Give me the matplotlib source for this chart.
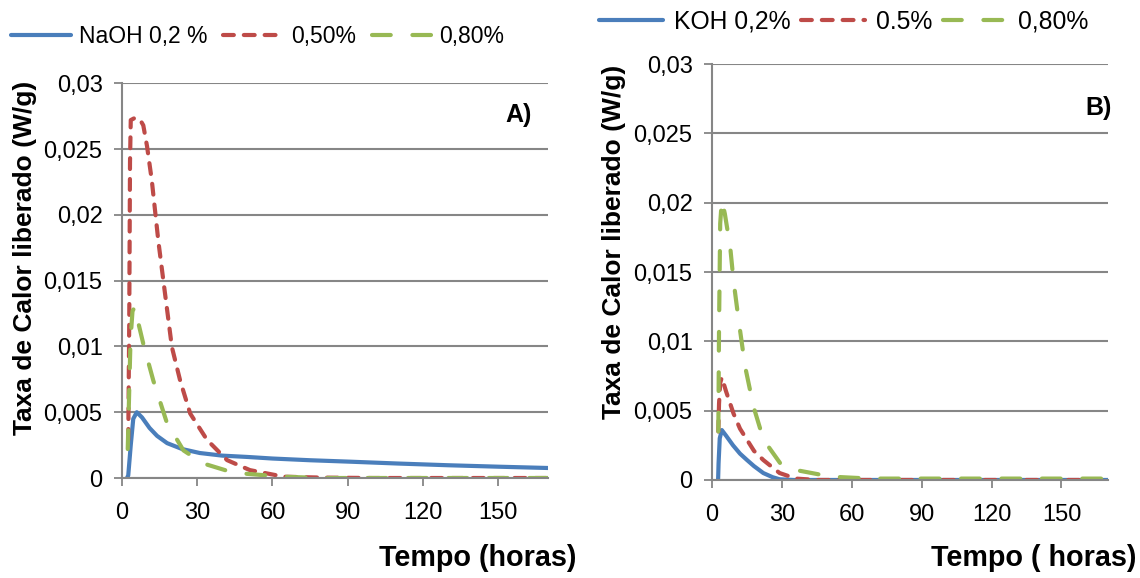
import numpy as np
import matplotlib.pyplot as plt

plt.rcParams['font.family'] = ['Liberation Sans', 'DejaVu Sans']

# ---- data (hours, W/g) ----
# Panel A: NaOH
t_naoh_02 = [2.0, 2.5, 3.5, 4.5, 5.9, 8, 11, 14, 18, 24, 31, 40, 50, 60, 75, 91, 110, 130, 150, 170]
q_naoh_02 = [0.0, 0.0002, 0.0025, 0.0045, 0.0050, 0.0046, 0.0038, 0.0032, 0.00265, 0.0022, 0.0019, 0.0017, 0.0016, 0.00148, 0.00135, 0.00124, 0.0011, 0.00097, 0.00086, 0.00076]

t_naoh_05 = [2.5, 2.9, 3.2, 3.5, 5.0, 7.0, 8.5, 10.0, 11.9, 14.5, 16.5, 19.9, 23.2, 27.2, 33.9, 41.9, 51, 64.5, 80, 100, 170]
q_naoh_05 = [0.0029, 0.012, 0.024, 0.0272, 0.02735, 0.0273, 0.0268, 0.0252, 0.0226, 0.018, 0.015, 0.00995, 0.0074, 0.0049, 0.0029, 0.00136, 0.0006, 0.0001, 0.00003, 0.0, 0.0]

t_naoh_08 = [2.3, 2.8, 3.4, 4.2, 5.2, 6.5, 8.5, 12.5, 17.9, 24.5, 32.5, 44.5, 64, 80, 170]
q_naoh_08 = [0.0022, 0.006, 0.0105, 0.0127, 0.0130, 0.0118, 0.0102, 0.0074, 0.0042, 0.0021, 0.0011, 0.0004, 0.0001, 0.0, 0.0]

# Panel B: KOH
t_koh_02 = [2.6, 2.8, 3.3, 4.2, 6, 9, 12, 15, 18, 22, 26, 29, 35, 170]
q_koh_02 = [0.0, 0.0012, 0.0030, 0.0036, 0.0032, 0.0025, 0.0019, 0.00144, 0.0010, 0.0005, 0.0002, 0.00005, 0.0, 0.0]

t_koh_05 = [2.7, 3.0, 3.5, 4.2, 6, 9.2, 12, 15, 18, 22, 29, 36, 45, 170]
q_koh_05 = [0.0035, 0.0055, 0.0070, 0.0074, 0.0064, 0.0048, 0.0037, 0.0029, 0.0021, 0.00144, 0.0005, 0.0001, 0.0, 0.0]

t_koh_08 = [2.7, 3.0, 3.5, 4.2, 5.5, 7.8, 9.2, 11.4, 14.2, 17.8, 22.1, 29.3, 36.5, 51, 68, 170]
q_koh_08 = [0.0035, 0.011, 0.0185, 0.0202, 0.0192, 0.0168, 0.0144, 0.01154, 0.00818, 0.00529, 0.0029, 0.0012, 0.0007, 0.00024, 0.0001, 0.0001]

labels_a = ['NaOH 0,2 %', '0,50%', '0,80%']
labels_b = ['KOH 0,2%', '0.5%', '0,80%']

y_ticks = [0, 0.005, 0.01, 0.015, 0.02, 0.025, 0.03]
y_ticklabels = ['0', '0,005', '0,01', '0,015', '0,02', '0,025', '0,03']
x_ticks = [0, 30, 60, 90, 120, 150]

blue = '#4A7EBB'
red = '#BE4B48'
green = '#98B954'
grey = '#868686'
FS = 17

fig = plt.figure(figsize=(11.4, 5.78), dpi=100)
axA = fig.add_axes([0.107, 0.173, 0.374, 0.683])
axB = fig.add_axes([0.6246, 0.1696, 0.3474, 0.7194])


def style(ax):
    ax.set_xlim(0, 170)
    ax.set_ylim(0, 0.03)
    ax.set_yticks(y_ticks)
    ax.set_yticklabels(y_ticklabels)
    ax.set_xticks(x_ticks)
    ax.tick_params(labelsize=FS, colors='black', length=6, width=1.3, color=grey, pad=8)
    ax.tick_params(axis='x', pad=11)
    for s in ['top', 'right']:
        ax.spines[s].set_visible(False)
    for s in ['left', 'bottom']:
        ax.spines[s].set_color(grey)
        ax.spines[s].set_linewidth(1.5)
    ax.grid(axis='y', color=grey, lw=1.5)
    ax.set_axisbelow(True)
    ax.set_ylabel('Taxa de Calor liberado (W/g)', fontsize=19, fontweight='bold')


def draw(ax, series, labels):
    (t1, q1), (t2, q2), (t3, q3) = series
    l1, = ax.plot(t1, q1, color=blue, lw=3, solid_capstyle='round', label=labels[0])
    l2, = ax.plot(t2, q2, color=red, lw=3, dashes=(2.6, 2.4), dash_capstyle='round', label=labels[1])
    l3, = ax.plot(t3, q3, color=green, lw=3, dashes=(4.5, 5.2), dash_capstyle='round', label=labels[2])
    return [l1, l2, l3]


style(axA)
style(axB)
hA = draw(axA, [(t_naoh_02, q_naoh_02), (t_naoh_05, q_naoh_05), (t_naoh_08, q_naoh_08)], labels_a)
hB = draw(axB, [(t_koh_02, q_koh_02), (t_koh_05, q_koh_05), (t_koh_08, q_koh_08)], labels_b)

axA.yaxis.set_label_coords(-0.20, 0.557)
axB.yaxis.set_label_coords(-0.217, 0.573)

fig.text(576 / 1140, 1 - 558 / 578, 'Tempo (horas)', fontsize=20.7, fontweight='bold', ha='right', va='center')
fig.text(1136 / 1140, 1 - 558 / 578, 'Tempo ( horas)', fontsize=20.7, fontweight='bold', ha='right', va='center')
fig.text(532 / 1140, 1 - 115 / 578, 'A)', fontsize=18, fontweight='bold', ha='right', va='center')
fig.text(1112 / 1140, 1 - 108 / 578, 'B)', fontsize=18, fontweight='bold', ha='right', va='center')

legkw = dict(frameon=False, ncol=3, handlelength=2.6, borderaxespad=0, borderpad=0)
fig.legend(handles=hA, loc='center left', bbox_to_anchor=(11 / 1140, 1 - 37 / 578), fontsize=16.5,
           handletextpad=0.35, columnspacing=0.7, **legkw)
fig.legend(handles=hB, loc='center left', bbox_to_anchor=(599 / 1140, 1 - 22 / 578), fontsize=17.8,
           handletextpad=0.45, columnspacing=0.4, **legkw)

fig.savefig('out.png', dpi=100)
